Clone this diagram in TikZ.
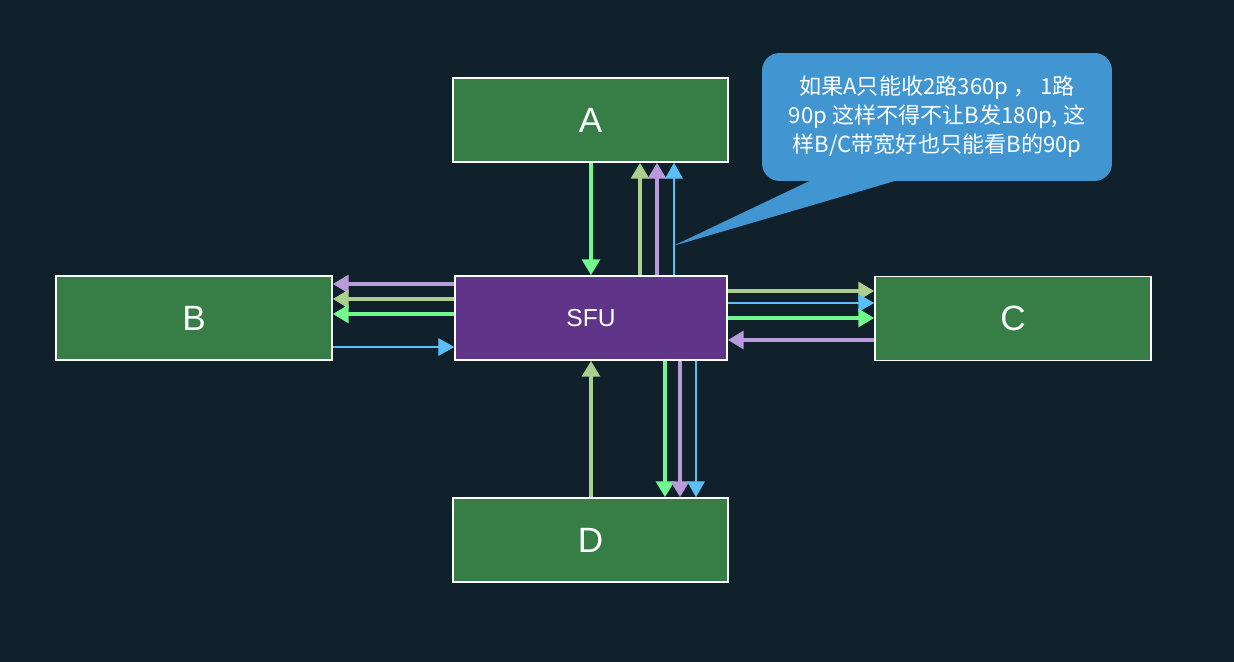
\documentclass[tikz,border=0pt]{standalone}
\usepackage{fontspec}
\setmainfont{Liberation Sans}
\newfontfamily\cjk{Noto Sans CJK SC}
\usetikzlibrary{arrows.meta,positioning,calc}
\definecolor{cBg}{HTML}{10212B}
\definecolor{cBox}{HTML}{367E46}
\definecolor{cSfu}{HTML}{5F3489}
\definecolor{cNote}{HTML}{4196D2}
\definecolor{cStrA}{HTML}{72F98E}
\definecolor{cStrB}{HTML}{5BBEF5}
\definecolor{cStrC}{HTML}{B99ADA}
\definecolor{cStrD}{HTML}{ADCF8E}
\tikzset{
  box/.style   = {draw=white, line width=0.9pt, fill=cBox, text=white,
                  minimum width=5.5cm, minimum height=1.68cm,
                  font=\fontsize{20}{24}\selectfont},
  sfu/.style   = {box, fill=cSfu, minimum width=5.44cm,
                  font=\fontsize{14}{17}\selectfont},
  note/.style  = {rounded corners=10pt, fill=cNote, text=white, align=center,
                  minimum width=7cm, minimum height=2.56cm,
                  font=\cjk\fontsize{12.6}{16.4}\selectfont},
  stream/.style= {line width=2.7pt, -{Triangle[width=10pt,length=9pt]}},
  strA/.style  = {stream, cStrA},
  strB/.style  = {stream, cStrB, line width=0.6pt},
  strC/.style  = {stream, cStrC},
  strD/.style  = {stream, cStrD},
}
\begin{document}
\begin{tikzpicture}[x=0.02cm, y=-0.02cm]
  \useasboundingbox (0,0) rectangle (1234,662);
  \fill[cBg] (0,0) rectangle (1234,662);
  \node[box] (A) at (590.5,120) {A};
  \node[box, minimum width=5.52cm] (B) at (194,318) {B};
  \node[sfu] (sfu) at (591,318) {SFU};
  \node[box, minimum width=5.52cm] (C) at (1013,318.5) {C};
  \node[box] (D) at (590.5,540) {D};
  % up / down between A and SFU
  \draw[strA] (A.south -| 591,0) -- (sfu.north -| 591,0);
  \draw[strD] (sfu.north -| 640,0) -- (A.south -| 640,0);
  \draw[strC] (sfu.north -| 657,0) -- (A.south -| 657,0);
  \draw[strB] (sfu.north -| 674,0) -- (A.south -| 674,0);
  % SFU and B
  \draw[strC] (sfu.west |- 0,284) -- (B.east |- 0,284);
  \draw[strD] (sfu.west |- 0,299) -- (B.east |- 0,299);
  \draw[strA] (sfu.west |- 0,314) -- (B.east |- 0,314);
  \draw[strB] (B.east |- 0,347) -- (sfu.west |- 0,347);
  % SFU and C
  \draw[strD] (sfu.east |- 0,291) -- (C.west |- 0,291);
  \draw[strB] (sfu.east |- 0,303) -- (C.west |- 0,303);
  \draw[strA] (sfu.east |- 0,318) -- (C.west |- 0,318);
  \draw[strC] (C.west |- 0,340) -- (sfu.east |- 0,340);
  % SFU and D
  \draw[strD] (D.north -| 591,0) -- (sfu.south -| 591,0);
  \draw[strA] (sfu.south -| 665,0) -- (D.north -| 665,0);
  \draw[strC] (sfu.south -| 680,0) -- (D.north -| 680,0);
  \draw[strB] (sfu.south -| 696,0) -- (D.north -| 696,0);
  % callout
  \coordinate (tip) at (673,246);
  \fill[cNote] (820,176) -- (tip) -- (912,176) -- cycle;
  \node[note] (remark) at (937,117)
    {如果A只能收2路360p ， 1路\\90p 这样不得不让B发180p, 这\\样B/C带宽好也只能看B的90p};
\end{tikzpicture}
\end{document}
